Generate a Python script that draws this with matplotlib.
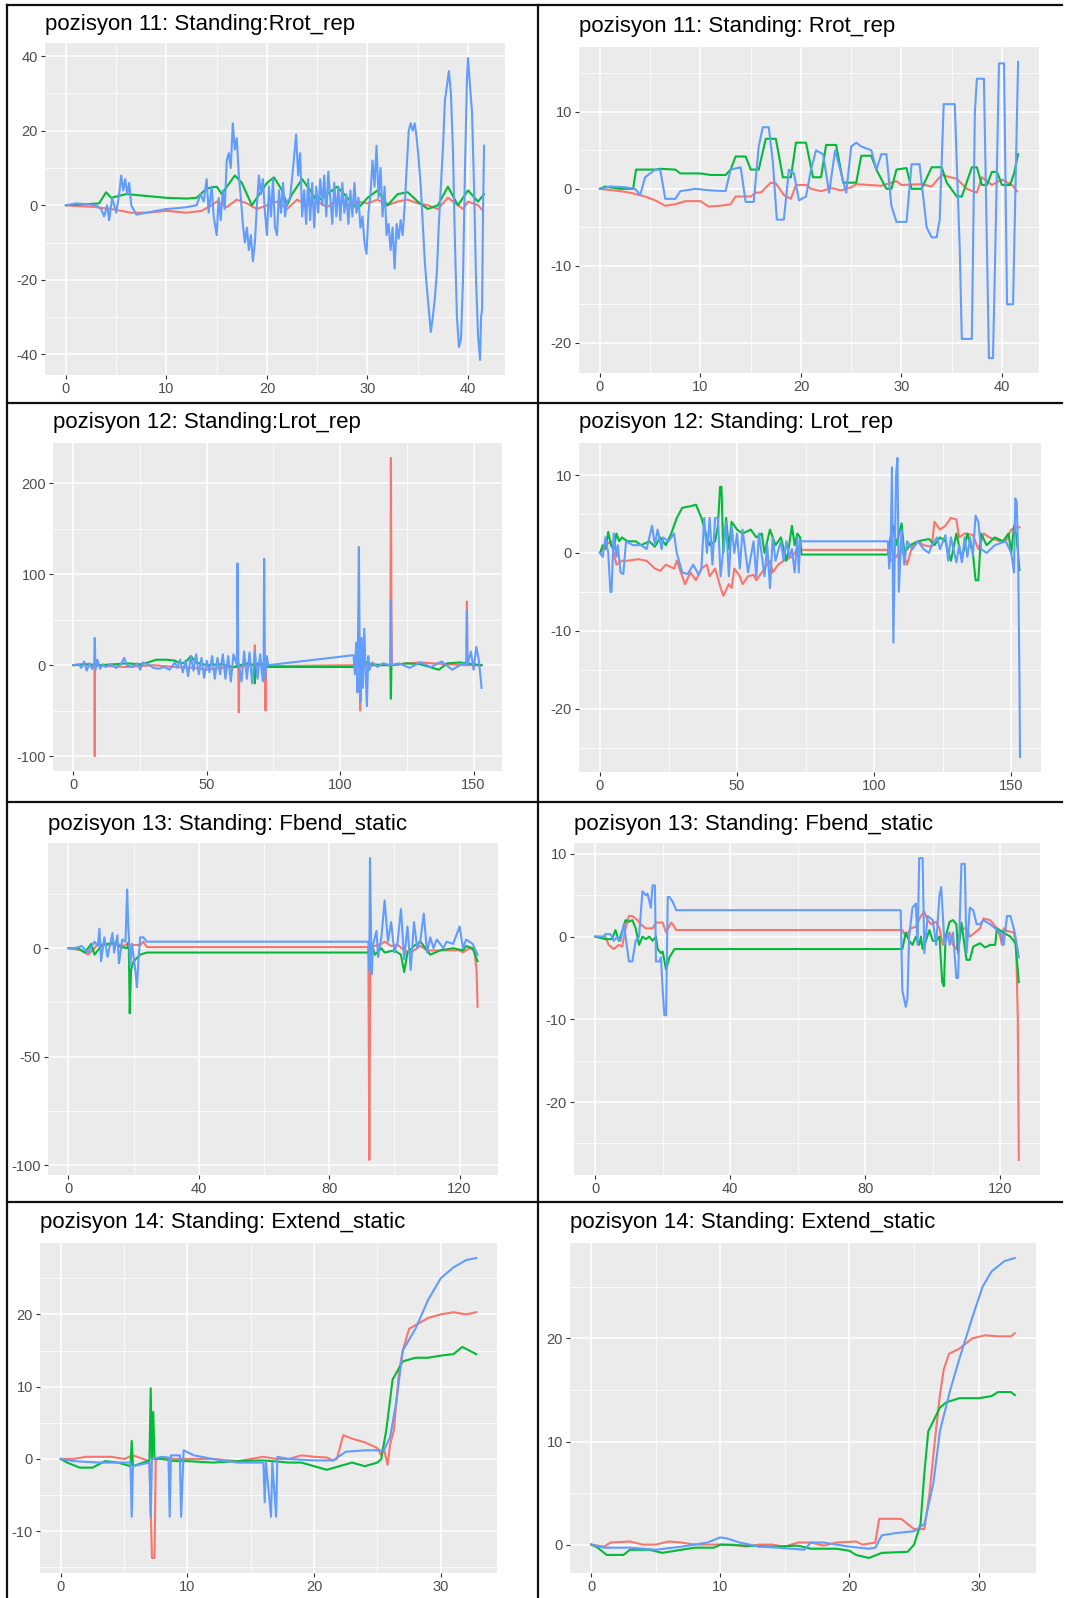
import matplotlib
matplotlib.use("Agg")
import matplotlib.pyplot as plt
from matplotlib.lines import Line2D
from matplotlib.ticker import AutoMinorLocator, FixedLocator

plt.rcParams["font.family"] = ["Liberation Sans", "DejaVu Sans"]
plt.rcParams["axes.unicode_minus"] = False

RED = "#F8766D"
GREEN = "#00BA38"
BLUE = "#619CFF"

# ---- pozisyon 11 (raw) ----
p1_red_x = [0, 3, 4.5, 6.5, 8, 10, 12, 13.5, 14.5, 15, 16, 17, 18, 19, 20, 21, 22, 23, 24, 25, 26, 27, 28, 29, 30, 31, 32, 33, 34, 35, 36, 37, 38, 39, 39.5, 40, 41, 41.5]
p1_red_y = [0, -0.5, -1, -2, -2, -1.5, -2, -1.5, 0, 1, -0.5, 1.5, 0.5, -1, 0, 1, -1, 1.5, 0, 1, -0.5, 1.5, 0, 1, 0.5, 1.5, 0, 1, 1.5, 0.5, 0, -1, 2, 0, -1, 1, 0, -1.5]
p1_green_x = [0, 3.3, 4, 4.5, 6, 8, 10, 12, 13, 14, 15, 15.5, 16.8, 17.5, 18, 18.5, 19, 20, 20.7, 21.5, 22, 22.5, 23.5, 24.3, 25, 26, 27, 28, 29, 30, 31, 32, 33, 34, 35, 36, 37, 38, 39, 40, 41, 41.6]
p1_green_y = [0, 0.5, 3.5, 2, 3, 2.5, 2, 1.8, 2, 4.5, 5, 3, 8, 6, 3, 0, 2, 6, 7.5, 4, 0, 3, 7, 4, 1, 3, 5, 2, -1, 2, 4, 0, 3, 3.5, 1, -1, 0, 5, 0, 4, 1, 3]
p1_blue_x = [0, 1, 2, 3, 3.5, 3.8, 4.1, 4.3, 4.6, 5, 5.3, 5.5, 5.7, 5.9, 6.1, 6.3, 6.5, 7, 8, 9, 10, 11, 12, 13, 13.4, 13.7, 14, 14.2, 14.5, 14.7, 15, 15.2, 15.4, 15.6, 15.8, 16, 16.2, 16.4, 16.6, 16.8, 17, 17.2, 17.4, 17.6, 17.8, 18, 18.2, 18.4, 18.6, 18.8, 19, 19.2, 19.4, 19.6, 19.8, 20, 20.2, 20.4, 20.6, 20.8, 21, 21.2, 21.4, 21.6, 21.8, 22, 22.3, 22.6, 22.9, 23.1, 23.3, 23.5, 23.7, 23.9, 24.1, 24.3, 24.5, 24.7, 24.9, 25.1, 25.3, 25.5, 25.7, 25.9, 26.1, 26.3, 26.5, 26.7, 26.9, 27.1, 27.3, 27.5, 27.7, 27.9, 28.1, 28.3, 28.5, 28.7, 28.9, 29.1, 29.3, 29.5, 29.7, 29.9, 30.1, 30.3, 30.5, 30.7, 30.9, 31.1, 31.3, 31.5, 31.7, 31.9, 32.1, 32.3, 32.5, 32.7, 32.9, 33.1, 33.3, 33.5, 33.7, 33.9, 34.1, 34.3, 34.5, 34.7, 34.9, 35.1, 35.3, 35.5, 35.7, 35.9, 36.1, 36.3, 36.5, 36.7, 36.9, 37.1, 37.3, 37.5, 37.7, 37.9, 38.1, 38.3, 38.5, 38.7, 38.9, 39.1, 39.3, 39.5, 39.7, 39.9, 40.0, 40.2, 40.4, 40.6, 40.8, 41.0, 41.2, 41.3, 41.4, 41.5, 41.6]
p1_blue_y = [0, 0.5, 0.3, 0, -1, -3, 0, -4, 2, -2, 3, 8, 4, 7, 3, 6, 0, -2.5, -2, -1.5, -1, -0.8, -0.5, 0, 3, 1, 7, -2, 5, -3, -8, 2, -4, 4, -1, 12, 14, 10, 22, 15, 18, 8, 2, -5, -10, -6, -12, -8, -15, -10, 0, 8, 3, 7, -2, -8, 5, -3, 7, -6, -8, 4, -2, 6, -3, 1, 2, 10, 19, 8, 14, -3, 4, -5, 7, -4, 6, -6, 5, -2, 7, 0, 8, -3, 9, 2, -5, 6, -3, 5, -4, 6, -2, 3, -5, 4, -3, 6, -2, 2, -6, -3, -10, -13, -2, 3, 12, 5, 16, 2, 10, -3, 5, -8, -5, -12, -6, -17, -5, -9, -4, -8, 0, 10, 20, 22, 20, 22, 18, 12, 5, -5, -15, -22, -28, -34, -30, -25, -18, -5, 5, 15, 28, 32, 36, 30, 15, -10, -30, -38, -36, -20, 10, 34, 39.5, 32, 25, 5, -20, -35, -41.5, -30, -28, 0, 16]

# ---- pozisyon 11 (filtered) ----
p2_red_x = [0, 2, 3, 4.5, 5.5, 6.5, 7.5, 8.5, 10, 10.8, 12, 13, 13.5, 15, 15.5, 16, 17, 17.5, 18.3, 19, 19.5, 20.5, 21, 22, 23, 24, 25, 25.5, 28, 29.5, 30, 32, 33, 34, 35.5, 36.5, 37.5, 38, 39, 40, 41, 41.5]
p2_red_y = [0, -0.3, -0.5, -1, -1.5, -2.2, -2, -1.6, -1.6, -2.3, -2.2, -2, -1, -1, -0.5, -0.5, 0.8, 0.7, -0.8, -1.3, 0.5, 0.5, 0, -0.3, 0.1, -0.2, 0.2, 0.6, 0.4, 1, 0.5, 0.6, 0.3, 1.8, 1.3, 0, -0.5, 1.5, 0.5, 1.2, 0.5, -0.3]
p2_green_x = [0, 0.5, 2, 3.3, 3.6, 5.5, 6, 7.5, 8, 10, 11, 12.5, 13, 13.5, 14.5, 15, 15.8, 16.5, 17.5, 18.2, 19, 19.5, 20.5, 21.2, 22, 22.5, 23.5, 24.2, 25.5, 26, 27, 27.5, 28.5, 29, 29.5, 30.5, 31, 32, 33, 34, 34.5, 35.5, 36, 37, 37.5, 38, 38.5, 39, 39.5, 40, 40.8, 41.2, 41.6]
p2_green_y = [0, 0.3, 0, 0, 2.5, 2.5, 2.6, 2.5, 2, 2, 1.8, 1.8, 2.5, 4.2, 4.2, 2.5, 2.5, 6.5, 6.5, 1.5, 1.5, 6, 6, 1.5, 1.5, 5.7, 5.7, 0.8, 0.8, 4.3, 4.3, 2.5, 0, 0, 2.5, 2.7, 0, 0, 2.8, 2.8, 0.8, -1, -1, 2.8, 2.8, 0.5, 0.5, 2.2, 2.2, 0.5, 0.5, 2, 4.5]
p2_blue_x = [0, 1, 2.5, 3.5, 4, 4.5, 5.5, 6, 6.5, 7.5, 8, 9.5, 11, 12.5, 13, 14, 14.5, 15.3, 15.8, 16.2, 16.8, 17.2, 17.6, 18.3, 18.8, 19.3, 19.8, 20.5, 21, 21.5, 22.2, 22.8, 23.4, 24, 24.5, 25, 25.5, 26, 27, 27.5, 28, 28.5, 29, 29.5, 30.5, 31, 31.8, 32.5, 33, 33.5, 33.8, 34.2, 35.3, 35.8, 36, 37, 37.3, 37.5, 38.2, 38.7, 39.1, 39.3, 39.7, 40.2, 40.5, 41.1, 41.6]
p2_blue_y = [0, 0.3, 0.2, 0, -0.8, 1.5, 2.5, 2.5, -1.3, -1.3, -0.3, 0, -0.2, -0.3, 2.5, 2.8, -1.7, -1.7, 5.5, 8, 8, 3.5, -4, -4, 2.5, 2, -1.5, -1, 2.5, 5, 4.5, -0.5, 5, 2, -0.5, 5.5, 6, 5.5, 5, 2.5, 4.5, 4.5, -2.2, -4.3, -4.3, 3.2, 3.2, -5, -6.3, -6.3, -4, 11, 11, -8, -19.5, -19.5, 10, 14.3, 14.3, -22, -22, -10, 16.3, 16.3, -15, -15, 16.5]

# ---- pozisyon 12 (raw) ----
p3_red_x = [0, 4, 7.9, 8, 8.1, 12, 20, 25, 30, 38, 45, 50, 55, 61.8, 62, 62.2, 65, 67.8, 68, 68.2, 71.8, 72, 72.2, 73, 105, 107.3, 107.5, 107.7, 112, 118.8, 119, 119.2, 119.4, 125, 130, 140, 147.3, 147.5, 147.7, 153]
p3_red_y = [0, 1, 0, -100, 0, -1, -2, -1, 0, -2, -3, -5, -3, -2, -52, -2, 0, 0, 22, 0, 0, -50, 0, -1, 0, 0, -50, 0, 1, 0, 228, 70, 0, 2, 3, 1, 0, 70, 0, 0]
p3_green_x = [0, 5, 10, 20, 25, 28, 31, 35, 38, 40, 42, 44, 46, 50, 55, 60, 65, 67.8, 68, 68.2, 70, 73, 105, 108, 110, 112, 118.8, 119, 119.2, 125, 130, 137, 140, 145, 150, 153]
p3_green_y = [0, 1, 0, 2, 1, 3, 6, 6, 5, 2, 3, 10, 3, 0, 1, -2, 2, 0, -20, 0, 3, -2, -2, 5, 3, 0, 0, -37, 0, 2, 1, -5, 2, 3, 1, 0]
p3_blue_x = [0, 2, 3, 4, 5, 6, 7, 7.8, 8, 8.3, 9, 10, 11, 12, 14, 16, 18, 19, 20, 22, 24, 25, 26, 28, 30, 32, 34, 36, 38, 39, 40, 41, 42, 43, 44, 45, 46, 47, 48, 49, 50, 51, 52, 53, 54, 55, 56, 57, 58, 59, 60, 61.3, 61.5, 61.8, 63, 64, 65, 66, 67, 68, 69, 70, 71, 71.3, 71.5, 71.8, 72.5, 73, 105, 105.5, 106, 106.5, 107, 107.3, 107.6, 108, 108.5, 109, 110, 110.5, 111, 112, 114, 116, 118.8, 119, 119.2, 122, 126, 130, 134, 138, 142, 146, 147.3, 147.5, 147.7, 149, 150, 151, 152, 153]
p3_blue_y = [0, 1, -3, 4, -6, 2, -4, 2, 30, -5, 6, -4, 1, -2, 1, -3, 2, 8, 0, -2, 2, -5, 3, 1, -3, -4, -2, -5, 3, -3, 6, -8, 5, -12, 10, -6, 12, -10, 8, -14, 5, -8, 10, -15, 8, -10, 12, -15, 10, -18, 12, 0, 112, 5, -18, 15, -15, 14, -20, 15, -15, 12, -18, 0, 117, -15, 10, 0, 11, -10, 25, -30, 130, 20, -40, 30, -25, 40, -45, 10, -5, 3, -2, 2, 0, 72, 0, 2, -3, 3, -2, 4, -5, 2, 0, 60, 0, 15, -5, 20, 5, -25]

# ---- pozisyon 12 (filtered) ----
p4_red_x = [0, 2, 4, 6, 8, 10, 14, 17, 20, 22, 24, 27, 28, 30, 31, 33, 35, 37, 39, 40, 42, 44, 45, 47, 48, 49, 51, 52, 54, 56, 57, 60, 62, 63, 65, 67, 70, 72, 73, 105, 106, 108, 110, 112, 114, 116, 118, 121, 122, 124, 126, 128, 130, 131, 133, 136, 138, 140, 142, 146, 148, 150, 152, 153]
p4_red_y = [0, 1, 1.5, -1.5, -1, -1, -0.8, -1, -2, -2.3, -1.5, -2, -1, -3, -4, -2.5, -3.5, -2, -1.5, -3, -2, -4.5, -5.5, -4, -4.5, -2, -3, -4, -3, -2.8, -3.5, -2, -1, -2.5, -1.5, -1, -0.5, 0.5, 0.4, 0.4, -1, -0.5, 0.5, -1.5, 1, 1.5, 1, 0.8, 4, 3, 3.5, 4.5, 4.3, 2, 2.5, 2.3, 0.5, 2.5, 2, 1.5, 1.5, 3, 3.3, 3.3]
p4_green_x = [0, 1, 2, 3, 4, 5, 6, 7, 8, 10, 13, 15, 18, 20, 22, 24, 26, 28, 30, 33, 35, 37, 39, 40, 42, 43, 43.8, 44.3, 45, 46, 47, 48, 50, 52, 55, 57, 59, 60, 62, 64, 66, 68, 69, 70, 71, 72, 73, 73.5, 105, 106, 107, 108, 110, 111, 113, 116, 120, 122, 124, 126, 128, 130, 132, 134, 136, 137, 138, 139, 141, 144, 147, 149, 150, 151, 152, 153]
p4_green_y = [0, 1, 0.5, 2.7, 1, 0.5, 2.5, 1.5, 2, 1.5, 1.5, 1, 1.5, 0.8, 2, 1, 2.5, 4.5, 5.8, 6, 6.2, 4.5, 2, 1, 1.5, 3.5, 8.5, 8.5, 0, 4.5, 0.5, 4, 3, 2.5, 3, 2, 2.5, 0, 3, 1, 2, -1, 1, 3.5, 1, 2.5, 2, -0.2, -0.2, 2, 3.5, 1, 3.8, 0, 1, 1.5, 1.8, 1, 2, 1.5, -1, 2.5, -0.8, 2.5, 0, -3.5, -3.5, 2.5, 1, 2, 1.5, 2.5, 0, 3.5, 2, -2.2]
p4_blue_x = [0, 1, 2, 3, 3.8, 4.2, 5, 6, 6.5, 7.5, 8.5, 9.5, 12, 15, 17, 19, 20, 21, 22.5, 23, 25, 27, 28, 30, 32, 34, 36, 37, 38, 39, 40, 41, 42, 43, 44, 46, 47, 48, 49, 50, 51, 52, 54, 56, 57, 58, 60, 61, 62, 63, 64, 66, 67, 68, 69, 70, 71, 72, 72.5, 73, 105, 105.5, 106, 106.5, 107, 108, 108.5, 109, 110, 111, 112, 114, 116, 118, 120, 121, 123, 124, 126, 127, 128, 130, 131, 132, 133, 134, 135, 136, 137, 138, 139, 141, 144, 148, 150, 151, 151.5, 152, 152.5, 153, 153.2]
p4_blue_y = [0, -0.5, 2, 0, -5, -5, 2.5, -0.5, 1, -2.5, -2.7, 1.5, 1, 1, 0.5, 3.5, 1, 3, 0.5, 2, 1.5, 2.5, 0, -2.5, -2.7, -1.5, -2.8, -2, 4.5, 0, 4.5, -1.5, 4.5, 4.5, -3, 4, -3, 3.5, 0, 2.5, -2, 3, -2.5, 1.5, -3, 2.5, -3, 1, -4.5, 2, -1, 1.5, -1, 1.5, -0.5, 0.5, -2.5, 2, -2.5, 1.5, 1.5, -2, 0.5, 11, -11.5, 10, 12.2, -5, 3, -1.5, 1.5, 0.5, 1.5, 0.5, 0, 1, 2, 0.5, 2.3, -1, 2, -1.2, 1, -1.2, 2, -0.5, 2, -0.3, 4.8, 4, 0.5, 0, 1, 1.5, 0, -2.5, 7, 6.5, 0, -16, -26.2]

# ---- pozisyon 13 (raw) ----
p5_red_x = [0, 4, 6, 8, 9, 12, 15, 17, 18, 19, 22, 23, 24, 92, 92.3, 92.6, 94, 96, 97, 99, 101, 103, 105, 108, 110, 120, 121, 123, 124.5, 125.2, 125.5]
p5_red_y = [0, -1, -3, 0, 2, 1.5, 2, 1, 2, 1.5, 1.5, 3, 0.5, 0.5, -97.5, 0, 1, 2, 3, 1, 1.5, -1, -2, 1, -1, -1, -2, 0, -1, -10, -27]
p5_green_x = [0, 3, 5, 7, 8, 10, 12, 14, 16, 18, 18.5, 18.8, 19.2, 20, 22, 24, 92, 93, 94, 96, 97, 100, 102, 103, 104, 106, 108, 110, 111, 114, 118, 121, 122, 124, 125.5]
p5_green_y = [0, 0, -2, 2, -3, 1, 2, 2.5, 0.5, 0, 3, -30, -10, -6, -3, -2, -2, 2, -3, 0, -2, -1, -3, -11, -2, 1, 3, -1, -3, -1, 0, -1, 1, 0, -6]
p5_blue_x = [0, 2, 4, 6, 8, 9, 9.5, 10, 11, 12, 13.5, 14, 15, 15.5, 16.5, 17.5, 18, 18.3, 19, 19.5, 20.5, 21, 21.5, 22, 23, 24, 92, 92.3, 92.5, 93, 93.5, 94.5, 95, 96, 97, 98, 99, 100, 101, 102, 103, 104, 105, 106, 107, 108, 109, 110, 111, 112, 113, 115, 116, 118, 120, 121, 122, 124, 125.5]
p5_blue_y = [0, 0, 1, -2, 3, 1, 9, -6, 5, -4, 7, -2, 6, -7, 4, 3, 27, 12, -8, 2, -10, -18, -5, 5, 5, 3, 3, -10, 41.5, -12, 2, 8, -4, 5, 22, 3, 12, -2, 3, 18, -5, 10, -10, 12, 0, 4, 16, -2, 5, 0, 4, 0, 3, 2, 10, 0, 4, 2, -3]

# ---- pozisyon 13 (filtered) ----
p6_red_x = [0, 3, 4, 5.5, 7, 8, 9, 10, 11, 12.5, 13.5, 15, 17, 18, 20, 21, 22.5, 23, 24, 91, 92, 93.5, 95, 96.5, 97.5, 98.5, 99.5, 101, 102, 103, 104, 105, 106, 107, 108, 109, 110, 111, 114, 115, 117, 118, 119, 120, 120.5, 121, 122, 124, 124.7, 125.2, 125.5]
p6_red_y = [0, 0, -1, -1.5, -1, -1.2, 1, 2.5, 2.5, 2, 1.5, 1, 1, 1.7, 1.7, 0.5, 1.7, 1.5, 0.8, 0.8, 0, 1, 1.2, 2.5, 3, 2, 1.5, 1.8, 1, -1, 0, 0.5, -1, -1.5, 0.5, 1, 1, 0, 1, 2.2, 2, 1.5, 1, 0, -1, 1, 0.7, 0.5, -1, -10, -27]
p6_green_x = [0, 3, 5, 6, 7, 7.5, 9, 10, 11, 12, 13, 14, 15, 16, 17, 18, 18.5, 19.5, 20, 21, 22, 23.5, 91, 92, 93, 94, 95, 96, 96.5, 97, 98, 99, 100, 101, 102, 102.8, 103.3, 103.8, 105, 106, 107, 107.5, 108.5, 110, 111, 112, 114, 115.5, 117, 118.5, 119, 121, 123, 124.5, 125.5]
p6_green_y = [0, -0.3, -0.3, 0.8, -0.5, 0, 2, 1.8, 2, 1, -1, 0, -0.3, 0, -0.5, 0, -1.5, -2, -1.8, -4, -2.5, -1.5, -1.5, 0.5, -0.5, -1, 0, -1, 0, -1.5, -0.5, 0.8, -0.5, -0.5, 0, -5.5, -6, 0, 1.8, 2, 1.5, -2, 1.7, -2.8, -2.8, -1.2, -0.8, -1.3, -1, -1, 1, 0.5, 0, -0.8, -5.5]
p6_blue_x = [0, 2.5, 3, 4.5, 5.5, 6.5, 7.5, 8.5, 9, 10, 11, 12, 13, 14, 15, 15.5, 16.5, 17, 17.7, 18, 19, 19.5, 20, 20.5, 21, 21.5, 22, 23, 24, 90.5, 91, 92, 92.5, 93, 94, 95, 95.5, 96, 97, 97.5, 98.5, 100, 101, 102, 102.5, 103.5, 104.5, 105, 106, 107, 107.5, 108, 108.5, 109.5, 110, 111, 112, 113, 114, 115, 117, 118.5, 120, 121, 122, 123, 124, 124.5, 125.5]
p6_blue_y = [0, 0, 0.3, 0.3, -0.5, 0, -0.5, 1.5, 0, -3, -3, -0.5, 0, 5.5, 5, 5.2, 3.5, 6.2, 6.2, -3, -3, -2.5, -6.5, -9.5, -9.5, 4.8, 4.8, 4.2, 3.2, 3.2, -6.5, -8.5, -7.5, 0, 3.5, 4, -1, 9.5, 9.5, -2, 2.5, 2, -1, 5, 6, -1, 0.5, -1, 0.5, -5, -5, 2, 8.8, 8.8, -2, 3.5, 3.2, 1.5, 1.5, 2, 1.5, 1, 0.5, -1, 2.5, 2.5, 1, 0, -2.5]

# ---- pozisyon 14 (raw) ----
p7_red_x = [0, 1, 2, 4, 5, 5.7, 6.5, 7, 7.2, 7.4, 7.5, 8, 9, 12, 14, 16, 17, 18, 19, 20, 21, 21.5, 21.8, 22.3, 23, 24, 25, 25.3, 25.5, 25.8, 26, 26.3, 26.7, 27, 27.5, 28, 29, 30, 31, 32, 32.8]
p7_red_y = [0, 0, 0.3, 0.3, 0, 0.5, 0, -0.3, -13.7, -13.7, 0, 0.2, 0, 0, -0.3, 0.3, 0, 0, 0.5, 0.3, 0.2, -0.2, 0, 3.3, 2.8, 2.3, 1.5, 0.5, 1.5, -0.8, 2, 4, 12, 15, 18, 18.5, 19.5, 20, 20.3, 20, 20.3]
p7_green_x = [0, 0.5, 1.5, 2.5, 3.5, 4.5, 5.5, 5.6, 5.7, 6.5, 7, 7.1, 7.2, 7.3, 7.4, 8, 9, 10, 12, 14, 16, 18, 19, 20, 21, 22, 23, 24, 25, 25.3, 25.7, 26.2, 27, 28, 29, 30, 31, 31.7, 32.8]
p7_green_y = [0, -0.5, -1.2, -1.2, -0.3, -0.5, -1, 2.5, -1, -0.5, -0.2, 9.8, 0, 6.5, 0, 0, -0.3, -0.3, -0.5, -0.3, -0.2, -0.5, -0.5, -1, -1.5, -1, -0.5, -1, -0.5, 0, 4, 11, 13.5, 14, 14, 14.3, 14.5, 15.5, 14.5]
p7_blue_x = [0, 1, 3, 5.5, 5.6, 5.7, 7, 7.1, 7.2, 8, 8.5, 8.6, 8.7, 9.4, 9.5, 9.7, 10.5, 12, 13, 14, 16, 16.1, 16.2, 16.6, 16.7, 17, 17.1, 18, 20, 21.5, 22.5, 24, 25.5, 26, 26.5, 27, 28, 29, 30, 31, 32, 32.8]
p7_blue_y = [0, -0.3, -0.5, -0.5, -8, -1, -0.5, -8, 0, 0.3, 0.2, -8, 0.5, 0.5, -8, 1.2, 0.5, 0, -0.3, -0.5, -0.5, -6, -0.5, -8, -0.5, -8, 0.3, 0, -0.2, -0.2, 1, 1.2, 1.2, 3, 8, 15, 18, 22, 25, 26.5, 27.5, 27.8]

# ---- pozisyon 14 (filtered) ----
p8_red_x = [0, 1, 1.5, 3, 4, 5, 6, 7, 8, 10, 11, 12, 13, 14, 15, 16, 17, 18, 19, 20.5, 21, 22, 22.3, 24, 24.5, 25, 25.8, 26.2, 26.6, 27, 27.3, 27.7, 28.5, 29, 29.5, 30.5, 31.5, 32.5, 32.8]
p8_red_y = [0, -0.2, 0.2, 0.3, 0, 0, 0.3, 0.2, 0, 0, 0, -0.2, 0, 0, -0.2, 0.2, 0.2, -0.1, 0.2, 0.3, 0, 0.2, 2.5, 2.5, 2, 1.5, 1.5, 5, 10, 14.5, 17, 18.5, 19, 19.5, 20, 20.3, 20.2, 20.2, 20.5]
p8_green_x = [0, 0.5, 1.2, 2.5, 3, 4.5, 5.5, 7, 8, 9.5, 10, 12, 14, 16, 17, 19, 20, 20.5, 21.5, 22.5, 24.5, 25, 25.5, 25.8, 26.1, 26.5, 27, 27.5, 28.5, 30, 31, 31.5, 32.5, 32.8]
p8_green_y = [0, -0.3, -1, -1, -0.5, -0.5, -0.8, -0.5, -0.3, -0.3, 0, -0.1, -0.2, -0.1, -0.4, -0.4, -0.6, -1, -1.3, -0.8, -0.7, 0, 2, 7, 11, 12, 13.3, 13.8, 14.2, 14.2, 14.4, 14.8, 14.8, 14.5]
p8_blue_x = [0, 1, 3, 5, 7, 8, 9, 10, 10.5, 11.5, 13, 14.5, 16.5, 17, 18, 20, 21.5, 22, 22.5, 23.5, 25, 25.8, 26.5, 27, 27.8, 28.5, 29.5, 30.3, 31, 32, 32.8]
p8_blue_y = [0, -0.3, -0.3, -0.5, -0.2, 0, 0.2, 0.7, 0.6, 0.2, -0.2, -0.3, -0.5, 0.2, 0.2, -0.2, -0.4, -0.3, 0.9, 1.1, 1.3, 2, 6, 11, 15, 18, 22, 25, 26.5, 27.5, 27.8]

titles = [
    "pozisyon 11: Standing:Rrot_rep", "pozisyon 11: Standing: Rrot_rep",
    "pozisyon 12: Standing:Lrot_rep", "pozisyon 12: Standing: Lrot_rep",
    "pozisyon 13: Standing: Fbend_static", "pozisyon 13: Standing: Fbend_static",
    "pozisyon 14: Standing: Extend_static", "pozisyon 14: Standing: Extend_static",
]
x_ticks = [[0, 10, 20, 30, 40], [0, 10, 20, 30, 40],
           [0, 50, 100, 150], [0, 50, 100, 150],
           [0, 40, 80, 120], [0, 40, 80, 120],
           [0, 10, 20, 30], [0, 10, 20, 30]]
y_ticks = [[-40, -20, 0, 20, 40], [-20, -10, 0, 10],
           [-100, 0, 100, 200], [-20, -10, 0, 10],
           [-100, -50, 0], [-20, -10, 0, 10],
           [-10, 0, 10, 20], [0, 10, 20]]

series = [
    [(p1_red_x, p1_red_y), (p1_green_x, p1_green_y), (p1_blue_x, p1_blue_y)],
    [(p2_red_x, p2_red_y), (p2_green_x, p2_green_y), (p2_blue_x, p2_blue_y)],
    [(p3_red_x, p3_red_y), (p3_green_x, p3_green_y), (p3_blue_x, p3_blue_y)],
    [(p4_red_x, p4_red_y), (p4_green_x, p4_green_y), (p4_blue_x, p4_blue_y)],
    [(p5_red_x, p5_red_y), (p5_green_x, p5_green_y), (p5_blue_x, p5_blue_y)],
    [(p6_red_x, p6_red_y), (p6_green_x, p6_green_y), (p6_blue_x, p6_blue_y)],
    [(p7_red_x, p7_red_y), (p7_green_x, p7_green_y), (p7_blue_x, p7_blue_y)],
    [(p8_red_x, p8_red_y), (p8_green_x, p8_green_y), (p8_blue_x, p8_blue_y)],
]

W, H = 1068, 1598
# panel boxes in pixels: left, top, right, bottom; title anchor (x, baseline)
boxes = [(45, 43, 505, 375), (579, 47, 1039, 373),
         (53, 443, 502, 771), (579, 443, 1041, 772),
         (48, 843, 498, 1175), (574, 843, 1040, 1175),
         (40, 1243, 497, 1573), (570, 1243, 1036, 1573)]
title_pos = [(45, 30), (579, 32), (53, 428), (579, 428),
             (48, 830), (574, 830), (40, 1228), (570, 1228)]

fig = plt.figure(figsize=(W / 100, H / 100), dpi=100)

for i in range(8):
    l, t, r, b = boxes[i]
    ax = fig.add_axes([l / W, 1 - b / H, (r - l) / W, (b - t) / H])
    ax.set_facecolor("#EBEBEB")
    for (xs, ys), c in zip(series[i], [RED, GREEN, BLUE]):
        ax.plot(xs, ys, color=c, lw=1.5)
    ax.margins(0.05)
    ax.xaxis.set_major_locator(FixedLocator(x_ticks[i]))
    ax.yaxis.set_major_locator(FixedLocator(y_ticks[i]))
    ax.xaxis.set_minor_locator(AutoMinorLocator(2))
    ax.yaxis.set_minor_locator(AutoMinorLocator(2))
    ax.grid(which="major", color="white", lw=1.1)
    ax.grid(which="minor", color="white", lw=0.55)
    ax.set_axisbelow(True)
    for s in ax.spines.values():
        s.set_visible(False)
    ax.tick_params(which="major", length=3, width=0.8, color="#333333",
                   labelcolor="#4D4D4D", labelsize=10.5, pad=2)
    ax.tick_params(which="minor", length=0)
    tx, ty = title_pos[i]
    fig.text(tx / W, 1 - ty / H, titles[i], fontsize=16, color="black",
             ha="left", va="baseline")

# black frame lines between the panels
for y in [5, 403, 802, 1202]:
    fig.add_artist(Line2D([7 / W, 1062 / W], [1 - y / H, 1 - y / H], color="#111111", lw=1.6))
for x in [7, 538]:
    fig.add_artist(Line2D([x / W, x / W], [1 - 5 / H, 0], color="#111111", lw=1.6))

fig.savefig("out.png", dpi=100)
